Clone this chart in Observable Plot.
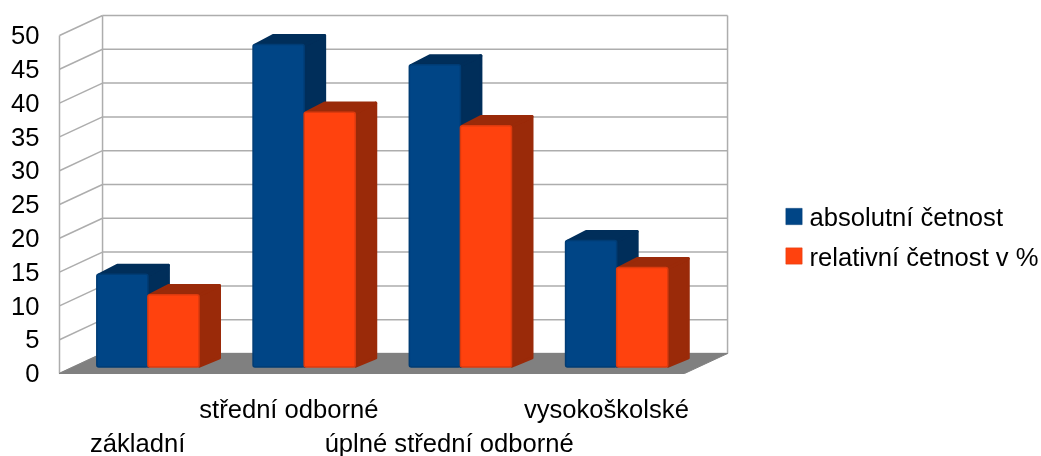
<!DOCTYPE html>
<html lang="cs">
<head>
<meta charset="utf-8">
<script src="https://cdn.jsdelivr.net/npm/d3@7"></script>
<script src="https://cdn.jsdelivr.net/npm/@observablehq/plot@0.6"></script>
<style>
html,body{margin:0;padding:0;background:#fff}
svg{display:block;filter:blur(0.4px)}
</style>
</head>
<body>
<div id="chart"></div>
<script>
const categories = ["základní", "střední odborné", "úplné střední odborné", "vysokoškolské"];
const seriesNames = ["absolutní četnost", "relativní četnost v %"];
const absolutni = [14, 48, 45, 19];
const relativni = [11, 38, 36, 15];
const yTicks = [0, 5, 10, 15, 20, 25, 30, 35, 40, 45, 50];

const colors = {front: ["#004586", "#ff420e"], edge: ["#003c74", "#dc3a0e"], side: ["#002e5a", "#9a2a09"]};
const FONT = "'Liberation Sans', Arial, sans-serif";
const TEXT_SIZE = 25.6;

// oblique projection, expressed in data units of the x and y scales
const wallX = 0.2755, wallY = 2.96;   // depth of the box
const barDX = 0.128, barDY = 1.42;    // depth of one bar
const barTopLift = 0.59, barBaseLift = 0.89;
const groupStart = 0.242, barW = 0.327;

const bars = [absolutni, relativni].flatMap((vals, s) => vals.map((v, i) => {
  const x1 = i + groupStart + s * barW, x2 = x1 + barW;
  return {s, i, x1, x2, y1: barBaseLift, y2: v + barTopLift};
}));

function darkFaces(s) {
  return bars.filter(b => b.s === s).flatMap(b => {
    const id = `${b.s}-${b.i}`;
    const pts = (face, list) => list.map(([x, y]) => ({id: id + face, x, y}));
    return [
      ...pts("side", [[b.x2, b.y1 + 0.2], [b.x2 + barDX, b.y1 + barDY], [b.x2 + barDX, b.y2 + barDY], [b.x2, b.y2]]),
      ...pts("top", [[b.x1 + 0.01, b.y2], [b.x1 + barDX, b.y2 + barDY], [b.x2 + barDX, b.y2 + barDY], [b.x2, b.y2]])
    ];
  });
}

const floor = [[0, 0], [4, 0], [4 + wallX, wallY], [wallX, wallY]].map(([x, y]) => ({x, y}));
const gridColor = "#adadad";
const gridWidth = 1.5;

const barMarks = [0, 1].flatMap(s => [
  Plot.line(darkFaces(s), {x: "x", y: "y", z: "id", curve: "linear-closed", fill: colors.side[s],
    stroke: colors.side[s], strokeWidth: 3, strokeLinejoin: "round"}),
  Plot.rect(bars.filter(b => b.s === s), {x1: "x1", x2: "x2", y1: "y1", y2: "y2",
    fill: colors.front[s], stroke: colors.edge[s], strokeWidth: 1.5, rx: 2})
]);

const catRows = [
  {idx: 0, dy: -13, dx: 0},
  {idx: 1, dy: -47, dx: -5},
  {idx: 2, dy: -13, dx: -1},
  {idx: 3, dy: -47, dx: 0}
];

const plot = Plot.plot({
  width: 1041, height: 456,
  marginTop: 0, marginRight: 0, marginBottom: 0, marginLeft: 0,
  style: {background: "#fff", fontFamily: FONT},
  x: {domain: [0, 4], range: [59, 684], axis: null},
  y: {domain: [0, 50], range: [373, 35], axis: null},
  marks: [
    // back wall
    Plot.link(yTicks, {x1: wallX, x2: 4 + wallX, y1: d => d + wallY, y2: d => d + wallY, stroke: gridColor, strokeWidth: gridWidth}),
    // side wall
    Plot.link(yTicks, {x1: 0, x2: wallX, y1: d => d, y2: d => d + wallY, stroke: gridColor, strokeWidth: gridWidth}),
    Plot.link([0], {x1: 0, x2: 0, y1: 0, y2: 50, stroke: gridColor, strokeWidth: gridWidth}),
    Plot.link([0], {x1: wallX, x2: wallX, y1: wallY, y2: 50 + wallY, stroke: gridColor, strokeWidth: gridWidth}),
    Plot.link([0], {x1: 4 + wallX, x2: 4 + wallX, y1: wallY, y2: 50 + wallY, stroke: gridColor, strokeWidth: gridWidth}),
    // floor
    Plot.line(floor, {x: "x", y: "y", curve: "linear-closed", fill: "#808080", stroke: "#808080", strokeWidth: 1}),
    ...barMarks,
    // y labels
    Plot.text(yTicks, {x: 0, y: d => d, text: d => String(d), textAnchor: "end", dx: -20, dy: 0.5,
      fontSize: TEXT_SIZE, fill: "#000"}),
    // category labels, staggered on two rows
    ...catRows.map(r => Plot.text([categories[r.idx]], {x: r.idx + 0.5, frameAnchor: "bottom", text: d => d,
      dy: r.dy, dx: r.dx, fontSize: TEXT_SIZE, fill: "#000", lineAnchor: "middle"})),
    // legend
    ...seriesNames.flatMap((name, s) => [
      Plot.dot([name], {frameAnchor: "top-left", dx: 793.5, dy: 216 + s * 39.5, symbol: "square", r: 9.2,
        fill: colors.front[s], stroke: colors.edge[s], strokeWidth: 0.5}),
      Plot.text([name], {frameAnchor: "top-left", dx: 809, dy: 217 + s * 40.5, text: d => d, textAnchor: "start",
        lineAnchor: "middle", fontSize: TEXT_SIZE, fill: "#000"})
    ])
  ]
});
document.getElementById("chart").append(plot);
</script>
</body>
</html>
